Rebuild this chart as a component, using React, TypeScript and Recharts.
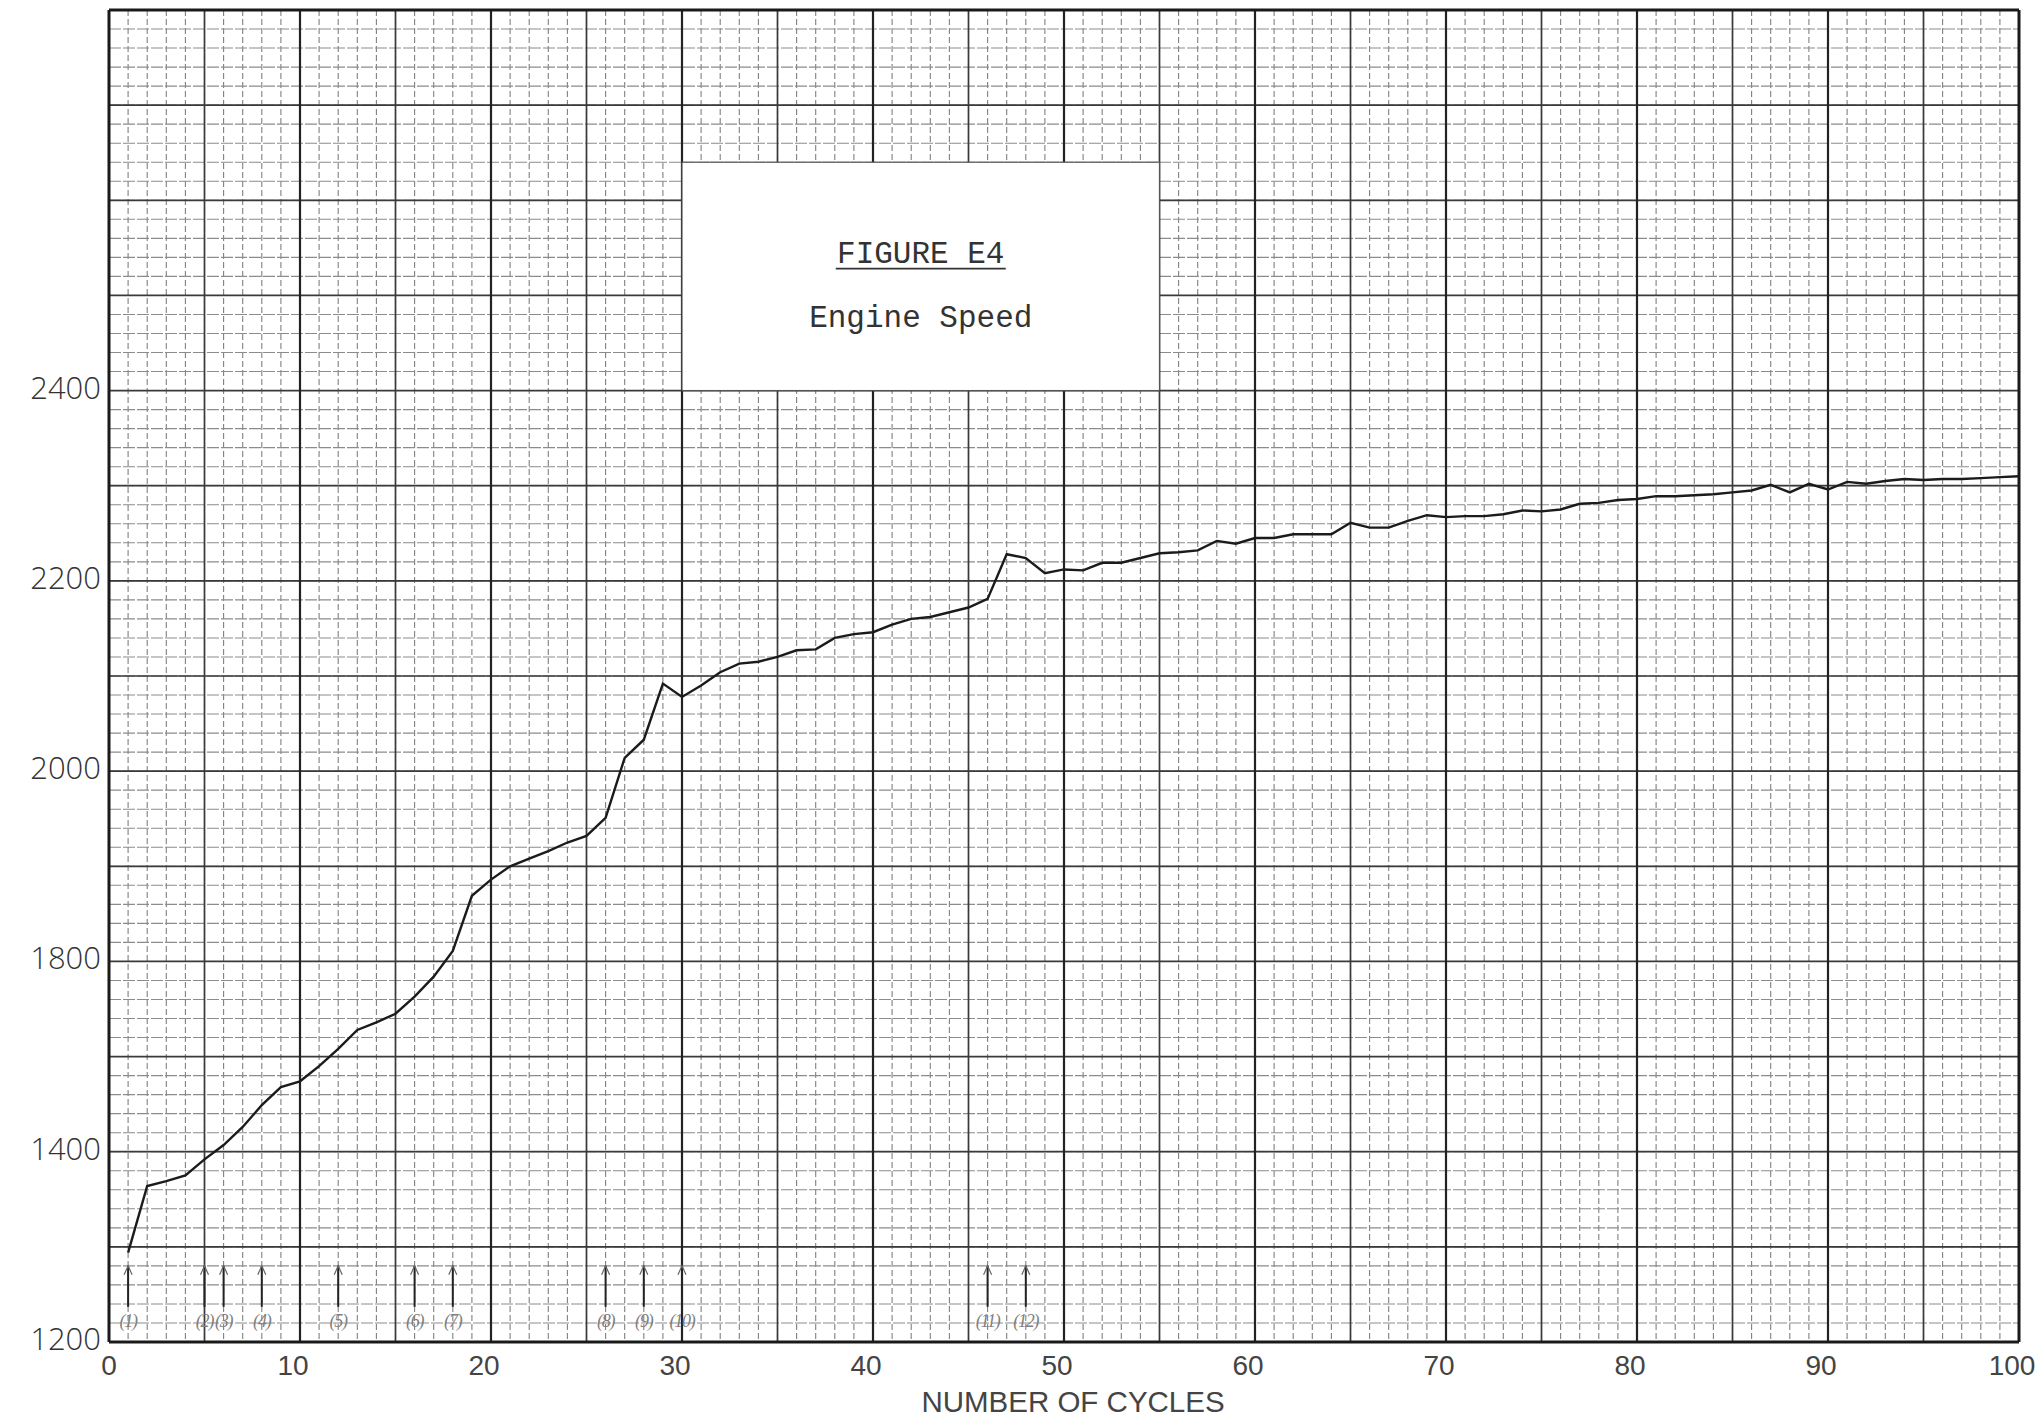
import React from 'react';
import { ComposedChart, Line, Scatter, XAxis, YAxis, CartesianGrid, ReferenceArea } from 'recharts';

// ---- data ----
const cycles = [
  1, 2, 3, 4, 5, 6, 7, 8, 9, 10,
  11, 12, 13, 14, 15, 16, 17, 18, 19, 20,
  21, 22, 23, 24, 25, 26, 27, 28, 29, 30,
  31, 32, 33, 34, 35, 36, 37, 38, 39, 40,
  41, 42, 43, 44, 45, 46, 47, 48, 49, 50,
  51, 52, 53, 54, 55, 56, 57, 58, 59, 60,
  61, 62, 63, 64, 65, 66, 67, 68, 69, 70,
  71, 72, 73, 74, 75, 76, 77, 78, 79, 80,
  81, 82, 83, 84, 85, 86, 87, 88, 89, 90,
  91, 92, 93, 94, 95, 96, 97, 98, 99, 100,
];
const engineSpeed = [
  1494, 1564, 1569, 1575, 1592, 1607, 1626, 1649, 1668, 1674,
  1690, 1708, 1728, 1736, 1745, 1763, 1784, 1811, 1869, 1886,
  1900, 1908, 1916, 1925, 1932, 1951, 2014, 2033, 2092, 2078,
  2090, 2104, 2113, 2115, 2120, 2127, 2128, 2140, 2144, 2146,
  2154, 2160, 2162, 2167, 2172, 2181, 2228, 2224, 2208, 2212,
  2211, 2219, 2219, 2224, 2229, 2230, 2232, 2242, 2239, 2245,
  2245, 2249, 2249, 2249, 2261, 2256, 2256, 2263, 2269, 2267,
  2268, 2268, 2270, 2274, 2273, 2275, 2281, 2282, 2285, 2286,
  2289, 2289, 2290, 2291, 2293, 2295, 2301, 2293, 2302, 2296,
  2304, 2302, 2305, 2307, 2306, 2307, 2307, 2308, 2309, 2310,
];

const eventCycles = [1, 5, 6, 8, 12, 16, 18, 26, 28, 30, 46, 48];
const eventLabels = ['(1)', '(2)', '(3)', '(4)', '(5)', '(6)', '(7)', '(8)', '(9)', '(10)', '(11)', '(12)'];
const eventLevel = 1437;

const xTicks = [0, 10, 20, 30, 40, 50, 60, 70, 80, 90, 100];
const yTickValues = [1400, 1600, 1800, 2000, 2200, 2400];
const yTickLabels = ['1200', '1400', '1800', '2000', '2200', '2400'];

const titleText = 'FIGURE E4';
const subtitleText = 'Engine Speed';
const xAxisTitle = 'NUMBER OF CYCLES';
const titleBox = { x1: 30, x2: 55, y1: 2400, y2: 2640 };

// ---- derived tables ----
const lineData = cycles.map((c, i) => ({ cycle: c, rpm: engineSpeed[i] }));
const eventData = eventCycles.map((c, i) => ({ cycle: c, level: eventLevel, label: eventLabels[i] }));

// graph-paper rulings
const range = (a: number, b: number, step: number) => {
  const out: number[] = [];
  for (let v = a; v <= b + 1e-9; v += step) out.push(v);
  return out;
};
const xMinor = range(0, 100, 1);
const xMid = range(5, 95, 10);
const xMajor = range(10, 90, 10);
const yMinor = range(1400, 2800, 20);
const yMajor = range(1500, 2700, 100);

const TitleBoxShape = (props: any) => {
  const { x, y, width, height } = props;
  if (x == null) return null;
  const cx = x + width / 2;
  const tY = y + height * 0.44;
  const sY = y + height * 0.72;
  return (
    <g>
      <rect x={x} y={y} width={width} height={height} fill="#ffffff" stroke="#555" strokeWidth={1.2} />
      <text x={cx} y={tY} textAnchor="middle" fontFamily="'Liberation Mono', 'DejaVu Sans Mono', monospace" fontSize={31} fill="#333">
        {titleText}
      </text>
      <line x1={cx - 85} x2={cx + 85} y1={tY + 6} y2={tY + 6} stroke="#333" strokeWidth={1.8} />
      <text x={cx} y={sY} textAnchor="middle" fontFamily="'Liberation Mono', 'DejaVu Sans Mono', monospace" fontSize={31} fill="#333">
        {subtitleText}
      </text>
    </g>
  );
};

const EventArrow = (props: any) => {
  const { cx, cy, payload } = props;
  if (cx == null || cy == null) return null;
  const tip = cy - 41;
  return (
    <g>
      <line x1={cx} x2={cx} y1={cy} y2={tip} stroke="#222" strokeWidth={2} />
      <polyline points={`${cx - 4},${tip + 9} ${cx},${tip} ${cx + 4},${tip + 9}`} fill="none" stroke="#666" strokeWidth={1.2} />
      <text x={cx} y={cy + 20} textAnchor="middle" fontStyle="italic" fontSize={18} letterSpacing={-1.2} fill="#808080" fontFamily="'Liberation Serif', serif">
        {payload.label}
      </text>
    </g>
  );
};

const XTick = (props: any) => {
  const { x, y, payload } = props;
  const dx = payload.value === 0 ? 0 : -7;
  return (
    <text x={x + dx} y={y} dy="0.71em" textAnchor="middle" fontFamily="'Liberation Sans', sans-serif" fontSize={28} fill="#444">
      {payload.value}
    </text>
  );
};

const XTitle = (props: any) => {
  const vb = props.viewBox || {};
  const { x = 0, y = 0, width = 0, height = 0 } = vb;
  return (
    <text x={x + width / 2 + 9} y={y + height - 8} textAnchor="middle" fontFamily="'Liberation Sans', sans-serif" fontSize={29.5} fill="#444">
      {xAxisTitle}
    </text>
  );
};

export default function App() {
  return (
    <div style={{ position: 'absolute', left: 0, top: 0, width: 2037, height: 1420, background: '#fff' }}>
      <ComposedChart width={2037} height={1420} margin={{ top: 10, right: 18, bottom: 0, left: 0 }}>
        <CartesianGrid horizontal={false} verticalValues={xMinor} stroke="#808080" strokeWidth={1.1} strokeDasharray="6 3" />
        <CartesianGrid vertical={false} horizontalValues={yMinor} stroke="#8c8c8c" strokeWidth={1.1} strokeDasharray="12 2" />
        <CartesianGrid horizontalValues={yMajor} verticalValues={xMid} stroke="#3a3a3a" strokeWidth={1.7} />
        <CartesianGrid horizontal={false} verticalValues={xMajor} stroke="#222" strokeWidth={2.2} />
        <CartesianGrid horizontalValues={[1400, 2800]} verticalValues={[0, 100]} stroke="#1a1a1a" strokeWidth={3} />
        <XAxis
          dataKey="cycle"
          type="number"
          domain={[0, 100]}
          ticks={xTicks}
          allowDataOverflow
          axisLine={false}
          tickLine={false}
          tickSize={0}
          tickMargin={13}
          height={78}
          interval={0}
          tick={<XTick />}
          label={<XTitle />}
        />
        <YAxis
          type="number"
          domain={[1400, 2800]}
          ticks={yTickValues}
          allowDataOverflow
          axisLine={false}
          tickLine={false}
          tickSize={0}
          tickMargin={8}
          width={109}
          interval={0}
          tickFormatter={(v: number, i: number) => yTickLabels[i] ?? String(v)}
          tick={{ fontFamily: "'Open Sans', sans-serif", fontWeight: 300, fontSize: 31, fill: '#333', dy: -3 }}
        />
        <ReferenceArea x1={titleBox.x1} x2={titleBox.x2} y1={titleBox.y1} y2={titleBox.y2} shape={<TitleBoxShape />} ifOverflow="visible" />
        <Line data={lineData} dataKey="rpm" type="linear" stroke="#1b1b1b" strokeWidth={2.4} dot={false} isAnimationActive={false} />
        <Scatter data={eventData} dataKey="level" shape={<EventArrow />} isAnimationActive={false} />
      </ComposedChart>
    </div>
  );
}
